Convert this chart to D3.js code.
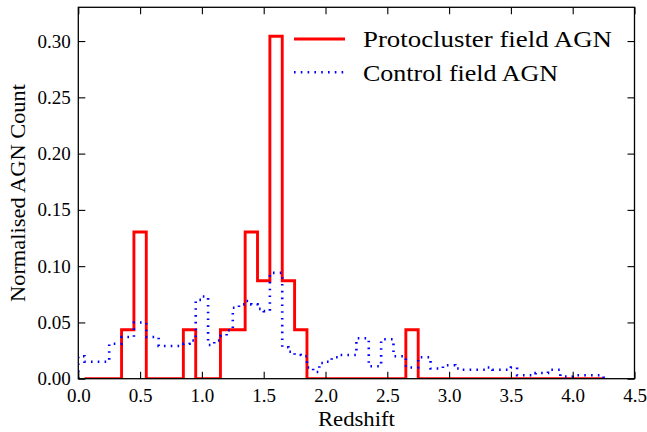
<!DOCTYPE html>
<html>
<head>
<meta charset="utf-8">
<script src="https://cdn.jsdelivr.net/npm/d3@7"></script>
<style>
  html, body { margin: 0; padding: 0; background: #fff; }
  svg { display: block; }
  text { font-family: "Liberation Serif", "Times New Roman", serif; fill: #000; }
</style>
</head>
<body>
<svg id="chart" width="647" height="432"></svg>
<script>
// ---- Data ----
const xTicks = [0.0, 0.5, 1.0, 1.5, 2.0, 2.5, 3.0, 3.5, 4.0, 4.5];
const yTicks = [0.00, 0.05, 0.10, 0.15, 0.20, 0.25, 0.30];

// Protocluster field AGN: bins of width 0.1 starting at 0.05
const protoStart = 0.05;
const protoWidth = 0.1;
const protoValues = [
  0, 0, 0, 0.0435, 0.1304, 0, 0, 0, 0.0435, 0,
  0, 0.0435, 0.0435, 0.1304, 0.0870, 0.3043, 0.0870, 0.0435, 0, 0,
  0, 0, 0, 0, 0, 0, 0.0435, 0, 0, 0,
  0, 0, 0, 0, 0, 0, 0, 0, 0, 0,
  0, 0
];

// Control field AGN: bins of width 0.05 starting at 0.0
const controlStart = 0.0;
const controlWidth = 0.05;
const controlValues = [
  0.020, 0.015, 0.015, 0.015, 0.015, 0.031, 0.031, 0.037, 0.037, 0.050,
  0.050, 0.037, 0.037, 0.029, 0.029, 0.029, 0.029, 0.031, 0.034, 0.070,
  0.073, 0.030, 0.034, 0.038, 0.043, 0.063, 0.066, 0.069, 0.066, 0.062,
  0.060, 0.094, 0.094, 0.028, 0.024, 0.021, 0.020, 0.010, 0.006, 0.014,
  0.015, 0.019, 0.021, 0.021, 0.021, 0.036, 0.036, 0.011, 0.011, 0.035,
  0.035, 0.020, 0.020, 0.010, 0.010, 0.019, 0.019, 0.009, 0.009, 0.012,
  0.012, 0.009, 0.008, 0.008, 0.008, 0.008, 0.010, 0.008, 0.008, 0.008,
  0.010, 0.003, 0.003, 0.003, 0.005, 0.005, 0.008, 0.008, 0.002, 0.002,
  0.003, 0.003, 0.003, 0.003, 0.003
];

const seriesNames = ["Protocluster field AGN", "Control field AGN"];
const xLabel = "Redshift";
const yLabel = "Normalised AGN Count";

// ---- Layout ----
const FONT = '"Liberation Serif", "Times New Roman", serif';
const L = 78.3, R = 634.5, T = 7.3, B = 378.7;
const svg = d3.select("#chart");
const x = d3.scaleLinear().domain([0, 4.5]).range([L, R]);
const y = d3.scaleLinear().domain([0, 0.33]).range([B, T]);

function stepPoints(start, width, values) {
  const pts = [[start, 0]];
  values.forEach((v, i) => {
    const x0 = start + i * width, x1 = start + (i + 1) * width;
    pts.push([x0, v]); pts.push([x1, v]);
  });
  pts.push([start + values.length * width, 0]);
  return pts;
}

svg.append("defs").append("clipPath").attr("id", "clip")
  .append("rect").attr("x", L).attr("y", T).attr("width", R - L).attr("height", B - T);

const line = d3.line().x(d => x(d[0])).y(d => y(d[1]));
const plot = svg.append("g").attr("clip-path", "url(#clip)");

plot.append("path")
  .datum(stepPoints(protoStart, protoWidth, protoValues))
  .attr("d", line)
  .attr("fill", "none").attr("stroke", "#ff0000").attr("stroke-width", 2.9)
  .attr("stroke-linejoin", "miter");

plot.append("path")
  .datum(stepPoints(controlStart, controlWidth, controlValues))
  .attr("d", line)
  .attr("fill", "none").attr("stroke", "#0000ff").attr("stroke-width", 2.6)
  .attr("stroke-dasharray", "1.6,5.2");

// ---- Axes ----
const tickLen = 7;
const gx = svg.append("g").attr("transform", `translate(0,${B})`)
  .call(d3.axisBottom(x).tickValues(xTicks).tickFormat(d3.format(".1f"))
    .tickSizeInner(-tickLen).tickSizeOuter(0).tickPadding(9.5));
const gy = svg.append("g").attr("transform", `translate(${L},0)`)
  .call(d3.axisLeft(y).tickValues(yTicks).tickFormat(d3.format(".2f"))
    .tickSizeInner(-tickLen).tickSizeOuter(0).tickPadding(7.6));
const gt = svg.append("g").attr("transform", `translate(0,${T})`)
  .call(d3.axisTop(x).tickValues(xTicks).tickFormat("")
    .tickSizeInner(-tickLen).tickSizeOuter(0));
const gr = svg.append("g").attr("transform", `translate(${R},0)`)
  .call(d3.axisRight(y).tickValues(yTicks).tickFormat("")
    .tickSizeInner(-tickLen).tickSizeOuter(0));

[gx, gy, gt, gr].forEach(g => {
  g.attr("font-family", FONT).attr("font-size", 19);
  g.select(".domain").remove();
  g.selectAll(".tick line").attr("stroke", "#000").attr("stroke-width", 1.1);
  g.selectAll(".tick text")
    .attr("font-family", FONT)
    .style("font-family", FONT)
    .style("font-size", "19px").attr("fill", "#000");
});

svg.append("rect")
  .attr("x", L).attr("y", T).attr("width", R - L).attr("height", B - T)
  .attr("fill", "none").attr("stroke", "#000").attr("stroke-width", 1.3);

// ---- Axis labels ----
svg.append("text")
  .attr("x", (L + R) / 2).attr("y", 426)
  .attr("text-anchor", "middle")
  .style("font-size", "21px")
  .attr("textLength", 77).attr("lengthAdjust", "spacingAndGlyphs")
  .text(xLabel);

svg.append("text")
  .attr("transform", `translate(25,${(T + B) / 2}) rotate(-90)`)
  .attr("text-anchor", "middle")
  .style("font-size", "21px")
  .attr("textLength", 218).attr("lengthAdjust", "spacingAndGlyphs")
  .text(yLabel);

// ---- Legend ----
const legend = svg.append("g");
const legendRows = [
  { name: seriesNames[0], color: "#ff0000", dash: null, y: 39, tl: 249, w: 2.9 },
  { name: seriesNames[1], color: "#0000ff", dash: "1.6,5.2", y: 72.3, tl: 195, w: 2.6 }
];
legendRows.forEach(r => {
  const ln = legend.append("line")
    .attr("x1", 294).attr("x2", 345).attr("y1", r.y).attr("y2", r.y)
    .attr("stroke", r.color).attr("stroke-width", r.w);
  if (r.dash) ln.attr("stroke-dasharray", r.dash);
  legend.append("text")
    .attr("x", 363).attr("y", r.y + 8.3)
    .style("font-size", "24px")
    .attr("textLength", r.tl).attr("lengthAdjust", "spacingAndGlyphs")
    .text(r.name);
});
</script>
</body>
</html>
